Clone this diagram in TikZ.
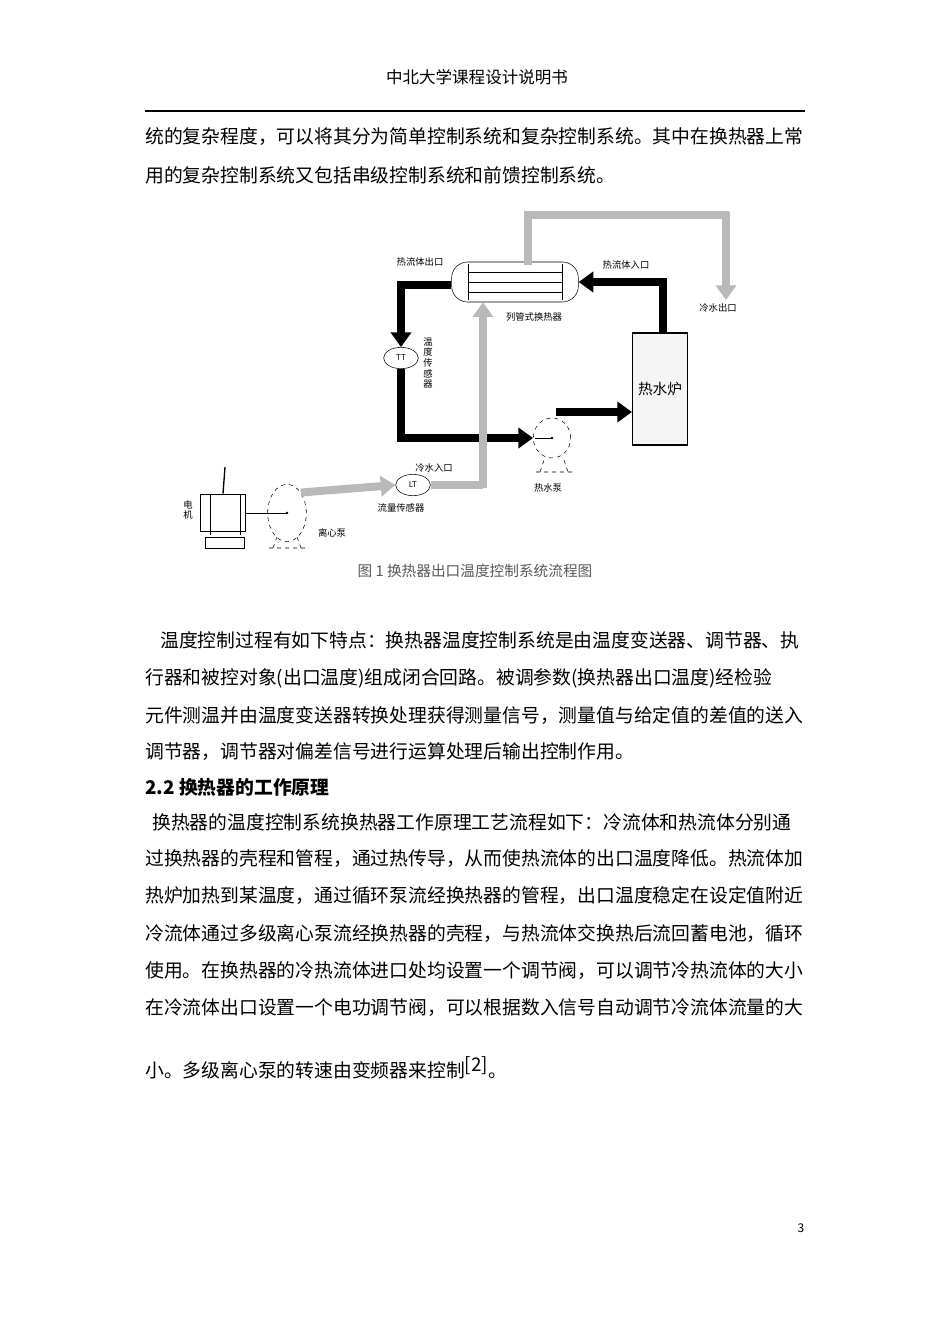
\documentclass[tikz,border=0pt]{standalone}
\usepackage{fontspec}
\setmainfont{Noto Sans CJK SC}
\usetikzlibrary{arrows.meta,positioning,shapes.geometric}
\newcommand{\bodyfont}{\fontsize{14.1}{16}\selectfont}
\newcommand{\smallfont}{\fontsize{7}{8}\selectfont}
\tikzset{
  txt/.style={anchor=west,inner sep=0pt,font=\bodyfont},
  lbl/.style={inner sep=0pt,font=\smallfont},
  hot/.style={line width=6pt,black,-{Triangle[length=11pt,width=15pt]}},
  cold/.style={line width=6pt,gray!55,-{Triangle[length=11pt,width=15pt]}},
  coldline/.style={line width=6pt,gray!55},
  sensor/.style={draw,ellipse,fill=white,minimum width=26pt,minimum height=16pt,inner sep=0pt,font=\fontsize{6}{7}\selectfont},
  pump/.style={draw,dashed,ellipse,fill=white,inner sep=0pt}
}
\begin{document}
\begin{tikzpicture}[x=0.75pt,y=-0.75pt]
\useasboundingbox (0,0) rectangle (950,1344);
% header
\node[inner sep=0pt,font=\fontsize{12.4}{14}\selectfont] (head) at (477,77) {中北大学课程设计说明书};
\draw[line width=0.8pt] (145,111) -- (805,111);
\node[txt] (l1) at (145,137) {统的复杂程度，可以将其分为简单控制系统和复杂控制系统。其中在换热器上常};
\node[txt] (l2) at (145,175) {用的复杂控制系统又包括串级控制系统和前馈控制系统。};

% heat exchanger
\node[draw,rounded corners=12pt,minimum width=95pt,minimum height=30pt,fill=white] (hx) at (515,282) {};
\foreach \yy in {272,282,292} \draw (468,\yy) -- (562,\yy);
\draw (468,264) -- (468,300) (562,264) -- (562,300);
% furnace and sensors
\node[draw,line width=1pt,minimum width=41pt,minimum height=84pt,fill=gray!8,inner sep=0pt] (fur) at (660,389) {\fontsize{11}{12}\selectfont 热水炉};
\node[sensor] (tt) at (401,358) {TT};
\node[sensor] (lt) at (413,485) {LT};
\node[pump,minimum width=28pt,minimum height=30pt] (hp) at (552,438) {};
\node[pump,minimum width=29pt,minimum height=43pt] (cp) at (287,513) {};
\draw[dashed] (540,472) -- (544,460) (564,460) -- (568,472) (536,472) -- (572,472);
\draw[dashed] (273,548) -- (277,537) (297,537) -- (301,548) (269,548) -- (305,548);
\fill (552,438) circle (1pt) (287,513) circle (1pt);
\draw (552,438) -- (535,438);
% motor
\node[draw,line width=1pt,minimum width=34pt,minimum height=28pt,inner sep=0pt] (mot) at (223,513) {};
\draw (210,495) -- (210,535) (240,495) -- (240,535);
\draw[line width=1pt] (225,467) -- (mot.north);
\draw (205,537) rectangle (244,548);
\draw (mot.east) -- (cp.center);

% hot loop
\draw[hot] (hx.west |- 0,285) -- (401,285) -- (tt.north);
\draw[hot] (tt.south) -- (401,438) -- (hp.west);
\draw[hot] (556,412) -- (fur.west |- 0,412);
\draw[hot] (fur.north -| 663,0) -- (663,282) -- (hx.east);
% cold loop
\draw[cold] (cp.north east) -- (lt.west);
\draw[coldline] (lt.east) -- (483,485);
\draw[cold] (483,488) -- (hx.south -| 483,0);
\draw[coldline] (528,265) -- (528,215) -- (729,215);
\draw[cold] (726,212) -- (726,300);

% labels
\node[lbl] (hout) at (420,262) {热流体出口};
\node[lbl] (hin) at (626,265) {热流体入口};
\node[lbl] (hxl) at (534,317) {列管式换热器};
\node[lbl,align=center] (ttl) at (428,363) {温\\度\\传\\感\\器};
\node[lbl] (cout) at (718,308) {冷水出口};
\node[lbl] (cin) at (434,468) {冷水入口};
\node[lbl] (ltl) at (401,508) {流量传感器};
\node[lbl] (hpl) at (548,488) {热水泵};
\node[lbl] (cpl) at (332,533) {离心泵};
\node[lbl,align=center] (motl) at (188,510) {电\\机};
\node[inner sep=0pt,font=\fontsize{11}{12}\selectfont,gray!70!black] (cap) at (475,571) {图 1 换热器出口温度控制系统流程图};

% text below
\node[txt] (p1) at (160,640) {温度控制过程有如下特点：换热器温度控制系统是由温度变送器、调节器、执};
\node[txt] (p2) at (145,678) {行器和被控对象(出口温度)组成闭合回路。被调参数(换热器出口温度)经检验};
\node[txt] (p3) at (145,716) {元件测温并由温度变送器转换处理获得测量信号，测量值与给定值的差值的送入};
\node[txt] (p4) at (145,752) {调节器，调节器对偏差信号进行运算处理后输出控制作用。};
\node[txt,font=\bodyfont\bfseries] (sec) at (145,787) {2.2 换热器的工作原理};
\node[txt] (q1) at (152,822) {换热器的温度控制系统换热器工作原理工艺流程如下：冷流体和热流体分别通};
\node[txt] (q2) at (145,859) {过换热器的壳程和管程，通过热传导，从而使热流体的出口温度降低。热流体加};
\node[txt] (q3) at (145,896) {热炉加热到某温度，通过循环泵流经换热器的管程，出口温度稳定在设定值附近};
\node[txt] (q4) at (145,934) {冷流体通过多级离心泵流经换热器的壳程，与热流体交换热后流回蓄电池，循环};
\node[txt] (q5) at (145,971) {使用。在换热器的冷热流体进口处均设置一个调节阀，可以调节冷热流体的大小};
\node[txt] (q6) at (145,1008) {在冷流体出口设置一个电功调节阀，可以根据数入信号自动调节冷流体流量的大};
\node[txt] (q7) at (145,1068) {小。多级离心泵的转速由变频器来控制\raisebox{0.6ex}{[2]}。};
\node[inner sep=0pt,font=\fontsize{9}{10}\selectfont] (pg) at (801,1228) {3};
\end{tikzpicture}
\end{document}
